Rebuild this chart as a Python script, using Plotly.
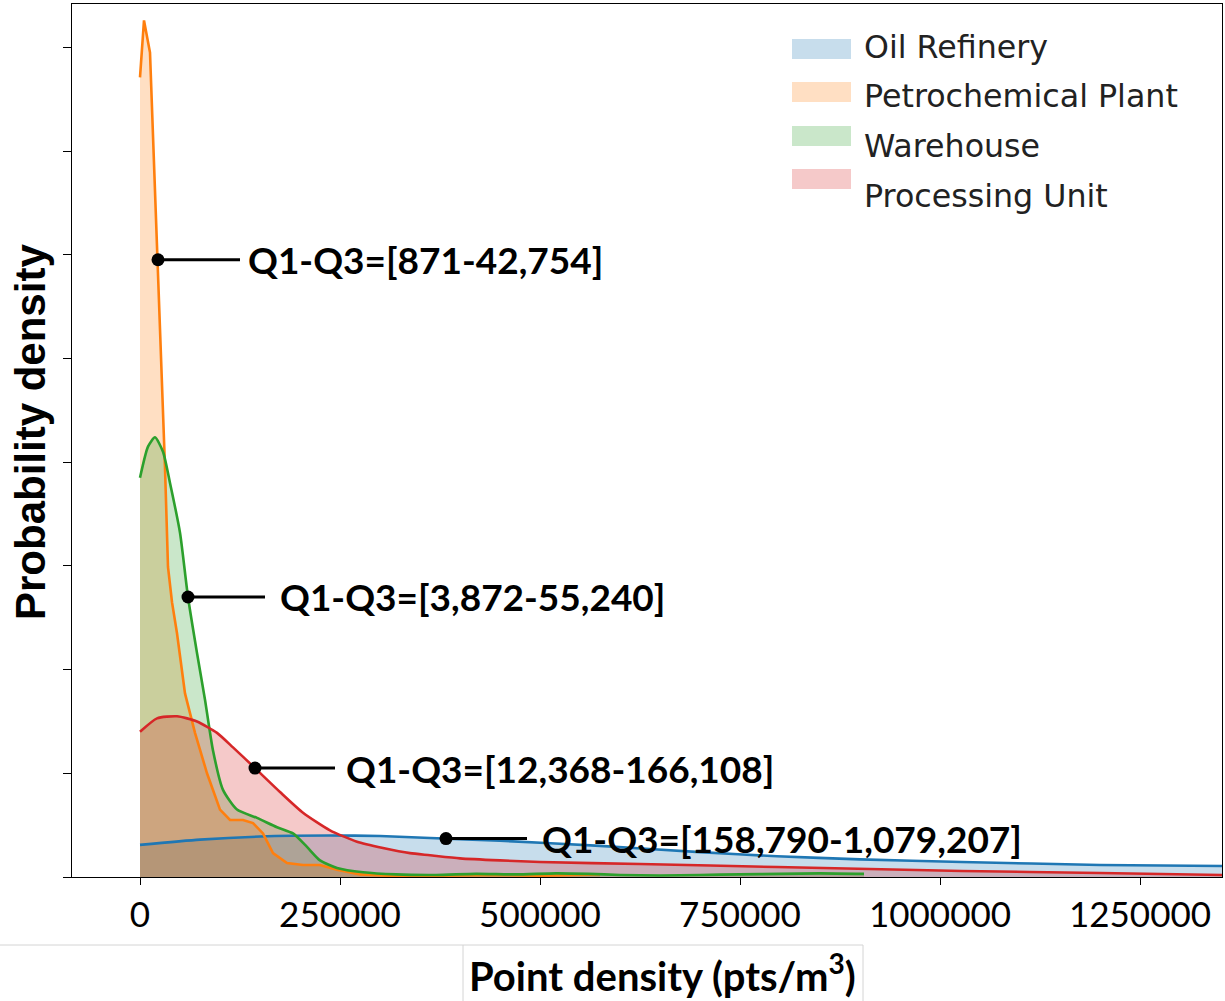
import numpy as np
import plotly.graph_objects as go

# ---- KDE curves (x in pts/m^3, density in units of 1e-6) ----
refinery_x = [0, 75000, 150000, 237500, 300000, 362500, 450000, 575000, 700000,
              796250, 900000, 1027500, 1200000, 1352500]
refinery_y = [0.31, 0.36, 0.39, 0.40, 0.395, 0.376, 0.35, 0.30, 0.24,
              0.20, 0.17, 0.145, 0.116, 0.106]

petro_x = [0, 5000, 12500, 16250, 21250, 27500, 31250, 35000, 40000, 46250, 56250,
           68750, 83750, 100000, 112500, 128750, 141250, 153750, 166250, 183750,
           203750, 225000, 246250, 275000, 310000, 350000, 400000, 450000, 500000,
           540000, 575000]
petro_y = [7.71, 8.26, 7.95, 7.17, 6.21, 4.92, 3.95, 2.99, 2.65, 2.35, 1.77,
           1.39, 1.00, 0.65, 0.55, 0.55, 0.52, 0.42, 0.23, 0.135,
           0.116, 0.116, 0.07, 0.025, 0.012, 0.01, 0.015, 0.02, 0.012,
           0.02, 0.025]

warehouse_x = [0, 10000, 18750, 28750, 37500, 50000, 60000, 71250, 81250, 91250,
               103750, 121250, 146250, 171250, 191250, 208750, 225000, 246250,
               278750, 320000, 370000, 420000, 470000, 520000, 560000, 600000,
               650000, 700000, 750000, 800000, 850000, 905000]
warehouse_y = [3.85, 4.15, 4.24, 4.10, 3.80, 3.32, 2.70, 2.16, 1.71, 1.22,
               0.84, 0.65, 0.57, 0.48, 0.42, 0.29, 0.16, 0.087,
               0.045, 0.025, 0.02, 0.03, 0.025, 0.035, 0.03, 0.02,
               0.015, 0.02, 0.025, 0.03, 0.035, 0.03]

processing_x = [0, 21250, 46250, 71250, 96250, 116250, 143750, 175000, 203750,
                237500, 271250, 303750, 337500, 362500, 400000, 450000, 500000,
                625000, 796250, 1027500, 1200000, 1352500]
processing_y = [1.40, 1.53, 1.55, 1.50, 1.39, 1.25, 1.05, 0.82, 0.62,
                0.45, 0.34, 0.28, 0.23, 0.21, 0.18, 0.16, 0.145,
                0.125, 0.096, 0.058, 0.039, 0.02]

series_names = ["Oil Refinery", "Petrochemical Plant", "Warehouse", "Processing Unit"]
line_colors = ["#1f77b4", "#ff7f0e", "#2ca02c", "#d62728"]
fill_colors = ["rgba(31,119,180,0.25)", "rgba(255,127,14,0.25)",
               "rgba(44,160,44,0.25)", "rgba(214,39,40,0.25)"]
line_shapes = ["spline", "linear", "spline", "spline"]

# interquartile-range callouts: where the marker sits on each curve
iqr_labels = ["Q1-Q3=[158,790-1,079,207]", "Q1-Q3=[871-42,754]",
              "Q1-Q3=[3,872-55,240]", "Q1-Q3=[12,368-166,108]"]
marker_x = [382500, 22500, 60000, 143750]
leader_end_x = [483750, 125000, 156250, 243750]
label_x = [500000, 132500, 172500, 255000]

x_ticks = [0, 250000, 500000, 750000, 1000000, 1250000]
x_tick_text = ["0", "250000", "500000", "750000", "1000000", "1250000"]
y_ticks = list(range(0, 9))

curves = [(refinery_x, refinery_y), (petro_x, petro_y),
          (warehouse_x, warehouse_y), (processing_x, processing_y)]

fig = go.Figure()

# translucent fills first, later series layered above earlier ones
for i in range(4):
    cx, cy = curves[i]
    fig.add_trace(go.Scatter(
        x=cx, y=cy, mode="lines", fill="tozeroy",
        fillcolor=fill_colors[i],
        line=dict(color="rgba(0,0,0,0)", width=0, shape=line_shapes[i],
                  smoothing=0.6),
        name=series_names[i], showlegend=False, hoverinfo="skip"))

# density outlines on top of all fills
for i in range(4):
    cx, cy = curves[i]
    fig.add_trace(go.Scatter(
        x=cx, y=cy, mode="lines",
        line=dict(color=line_colors[i], width=2.6, shape=line_shapes[i],
                  smoothing=0.6),
        name=series_names[i], showlegend=False, hoverinfo="skip"))

# callout markers, leader lines and labels
annotations = []
for i in range(4):
    cx, cy = curves[i]
    my = float(np.interp(marker_x[i], cx, cy))
    fig.add_trace(go.Scatter(
        x=[marker_x[i], leader_end_x[i]], y=[my, my], mode="lines",
        line=dict(color="black", width=3), showlegend=False, hoverinfo="skip"))
    fig.add_trace(go.Scatter(
        x=[marker_x[i]], y=[my], mode="markers",
        marker=dict(color="black", size=13), showlegend=False, hoverinfo="skip"))
    annotations.append(dict(
        x=label_x[i], y=my, xref="x", yref="y", text=iqr_labels[i],
        showarrow=False, xanchor="left", yanchor="middle",
        font=dict(family="Lato", size=37, color="black", weight=700)))

# plot-area geometry in pixels (for placing paper-referenced items)
W, H = 1225, 1001
L, R, T, B = 72, 3, 4, 124
pw, ph = W - L - R, H - T - B


def px_x(p):
    return (p - L) / pw


def px_y(p):
    return (H - B - p) / ph


# legend (patches + labels)
legend_patch_y = [49, 92, 136, 179]
legend_text_y = [47, 96, 146, 196]
shapes = []
for i in range(4):
    shapes.append(dict(
        type="rect", xref="paper", yref="paper",
        x0=px_x(792), x1=px_x(851),
        y0=px_y(legend_patch_y[i] + 10), y1=px_y(legend_patch_y[i] - 10),
        fillcolor=fill_colors[i], line=dict(width=0)))
    annotations.append(dict(
        x=px_x(862), y=px_y(legend_text_y[i]), xref="paper", yref="paper",
        text=series_names[i], showarrow=False, xanchor="left", yanchor="middle",
        font=dict(family="DejaVu Sans", size=31.7, color="#222222")))

# axis titles
annotations.append(dict(
    x=px_x(30), y=px_y(432), xref="paper", yref="paper",
    text="Probability density", textangle=-90, showarrow=False,
    xanchor="center", yanchor="middle",
    font=dict(family="Liberation Sans", size=42, color="black", weight=700)))

# framed box behind the x-axis title
shapes.append(dict(type="line", xref="paper", yref="paper",
                   x0=px_x(0), x1=px_x(463), y0=px_y(945), y1=px_y(945),
                   line=dict(color="#d4d4d4", width=1)))
shapes.append(dict(type="rect", xref="paper", yref="paper",
                   x0=px_x(463), x1=px_x(863), y0=px_y(1010), y1=px_y(945),
                   fillcolor="white", line=dict(color="#d4d4d4", width=1)))
annotations.append(dict(
    x=px_x(662), y=px_y(973), xref="paper", yref="paper",
    text="Point density (pts/m<sup>3</sup>)", showarrow=False,
    xanchor="center", yanchor="middle",
    font=dict(family="Lato", size=40, color="black", weight=700)))

fig.update_layout(
    width=W, height=H,
    margin=dict(l=L, r=R, t=T, b=B),
    paper_bgcolor="white", plot_bgcolor="white",
    showlegend=False,
    shapes=shapes, annotations=annotations,
    xaxis=dict(range=[-85000, 1352500], tickvals=x_ticks, ticktext=x_tick_text,
               ticks="outside", ticklen=7, tickwidth=1.2, tickcolor="black",
               showline=True, linecolor="black", linewidth=1.3, mirror=True,
               showgrid=False, zeroline=False,
               tickfont=dict(family="Lato", size=35, color="black")),
    yaxis=dict(range=[0, 8.418], tickvals=y_ticks, showticklabels=False,
               ticks="outside", ticklen=8, tickwidth=1.2, tickcolor="black",
               showline=True, linecolor="black", linewidth=1.3, mirror=True,
               showgrid=False, zeroline=False),
)

fig.write_html("out.html")
